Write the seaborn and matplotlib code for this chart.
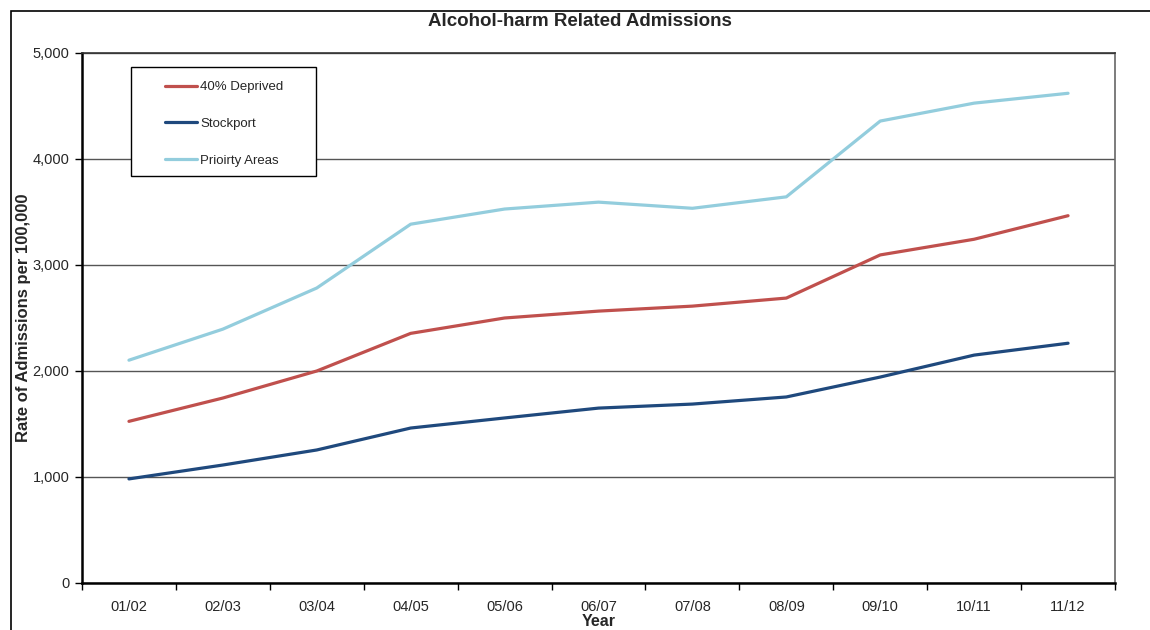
import matplotlib
matplotlib.use("Agg")
import matplotlib.pyplot as plt
from matplotlib.patches import Rectangle
from matplotlib.ticker import FuncFormatter, FixedLocator
import numpy as np
import pandas as pd
import seaborn as sns

years = ["01/02", "02/03", "03/04", "04/05", "05/06", "06/07",
         "07/08", "08/09", "09/10", "10/11", "11/12"]
deprived_40 = [1525, 1745, 2000, 2355, 2500, 2565, 2612, 2688, 3095, 3243, 3465]
stockport = [982, 1113, 1255, 1462, 1557, 1650, 1688, 1755, 1943, 2150, 2262]
priority_areas = [2102, 2395, 2783, 3385, 3528, 3593, 3535, 3643, 4358, 4527, 4620]

series_names = ["40% Deprived", "Stockport", "Prioirty Areas"]
series_colors = ["#C0504D", "#1F497D", "#93CDDD"]

df = pd.DataFrame({
    "Year": years * 3,
    "idx": list(range(len(years))) * 3,
    "Rate": deprived_40 + stockport + priority_areas,
    "Series": [series_names[0]] * len(years)
              + [series_names[1]] * len(years)
              + [series_names[2]] * len(years),
})

sns.set_theme(style="white")
plt.rcParams["font.family"] = ["Liberation Sans", "DejaVu Sans"]

W, H = 1150, 630
fig = plt.figure(figsize=(W / 100, H / 100), dpi=100)
ax = fig.add_axes([82 / W, 1 - 583 / H, (1115 - 82) / W, (583 - 53) / H])

sns.lineplot(data=df, x="idx", y="Rate", hue="Series",
             palette=dict(zip(series_names, series_colors)),
             hue_order=series_names, linewidth=2.3, ax=ax, legend=False)

n = len(years)
ax.set_xlim(-0.5, n - 0.5)
ax.set_ylim(0, 5000)

# x: labels centred in each category, ticks on category boundaries
ax.set_xticks(range(n))
ax.set_xticklabels(years, fontsize=10.5)
ax.xaxis.set_minor_locator(FixedLocator(np.arange(-0.5, n, 1.0)))
ax.tick_params(axis="x", which="major", length=0, pad=12)
ax.tick_params(axis="x", which="minor", length=5, width=1, color="black",
               direction="out", bottom=True)

ax.set_yticks(range(0, 5001, 1000))
ax.yaxis.set_major_formatter(FuncFormatter(lambda v, p: f"{int(v):,}"))
ax.tick_params(axis="y", length=5, width=1, color="black", direction="out",
               labelsize=10.5, left=True, pad=4)

ax.grid(axis="y", color="#555555", linewidth=1)
ax.grid(axis="x", visible=False)
ax.set_axisbelow(True)

for side in ["left", "bottom"]:
    ax.spines[side].set_color("black")
    ax.spines[side].set_linewidth(1.8)
ax.spines["top"].set_color("#333333")
ax.spines["top"].set_linewidth(1.2)
ax.spines["right"].set_color("#666666")
ax.spines["right"].set_linewidth(1.2)

ax.set_xlabel("Year", fontsize=11.5, fontweight="bold", labelpad=0)
ax.set_ylabel("Rate of Admissions per 100,000", fontsize=12,
              fontweight="bold", labelpad=1)
fig.text(0.504, 1 - 21 / H, "Alcohol-harm Related Admissions",
         ha="center", va="center", fontsize=13.5, fontweight="bold")

# legend: white box with a thin black border, entries inside it
def ax_x(px):
    return (px - 82) / (1115 - 82)

def ax_y(py):
    return (583 - py) / (583 - 53)

box = Rectangle((ax_x(131), ax_y(176)), ax_x(316) - ax_x(131), ax_y(67) - ax_y(176),
                transform=ax.transAxes, facecolor="white", edgecolor="black",
                linewidth=1.0, zorder=4)
ax.add_patch(box)

handles = [plt.Line2D([], [], color=c, linewidth=2.3) for c in series_colors]
leg = ax.legend(handles, series_names, loc="upper left",
                bbox_to_anchor=(ax_x(165), ax_y(81)),
                frameon=False, fontsize=9.5,
                handlelength=2.4, handletextpad=0.25, labelspacing=1.85,
                borderpad=0, borderaxespad=0)
leg.set_zorder(5)

# outer chart frame
fig.patches.append(Rectangle((11 / W, -0.05), 1.1, 1 - 11 / H + 0.05,
                             transform=fig.transFigure, fill=False,
                             edgecolor="black", linewidth=1.2, clip_on=False))

fig.savefig("out.png", dpi=100, facecolor="white")
